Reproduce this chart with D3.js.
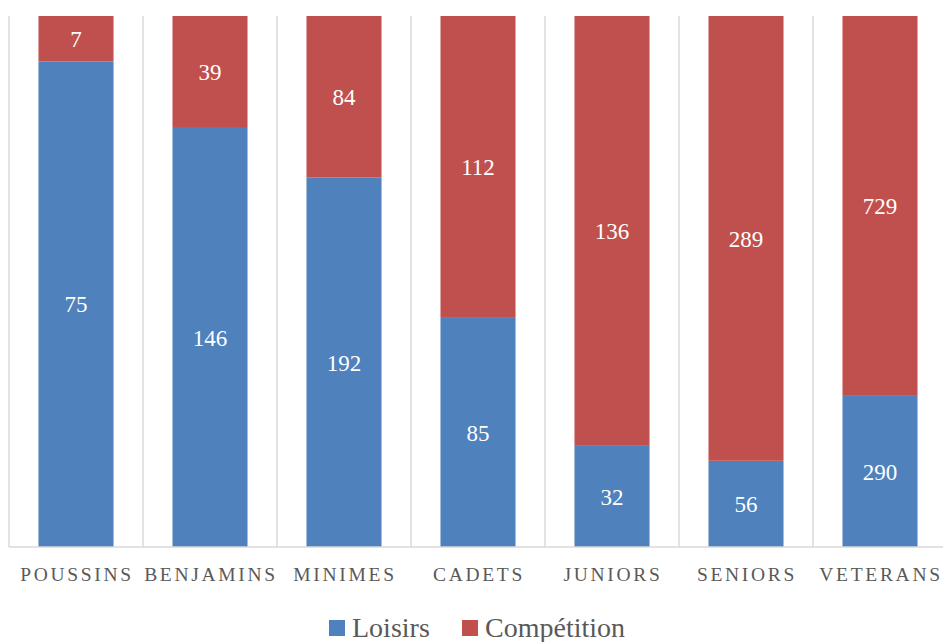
<!DOCTYPE html>
<html>
<head>
<meta charset="utf-8">
<script src="https://cdn.jsdelivr.net/npm/d3@7"></script>
<style>
  body { margin: 0; background: #fff; }
  svg text { font-family: "Liberation Serif", "DejaVu Serif", serif; }
</style>
</head>
<body>
<svg id="chart" width="943" height="642"></svg>
<script>
// categories and series values
let categories = ['POUSSINS', 'BENJAMINS', 'MINIMES', 'CADETS', 'JUNIORS', 'SENIORS', 'VETERANS'];
let loisirs = [75, 146, 192, 85, 32, 56, 290];
let competition = [7, 39, 84, 112, 136, 289, 729];
let seriesNames = ['Loisirs', 'Compétition'];
let colors = ['#4f81bd', '#c0504d'];

let svg = d3.select('#chart');

// plot area
let plotLeft = 9, plotRight = 947, plotTop = 16, plotBottom = 547;

let x = d3.scaleBand().domain(categories).range([plotLeft, plotRight]).paddingInner(0).paddingOuter(0);
let y = d3.scaleLinear().domain([0, 1]).range([plotBottom, plotTop]);

// table for the stack, normalised to 100%
let rows = categories.map((c, i) => ({cat: c, Loisirs: loisirs[i], 'Compétition': competition[i]}));
let stack = d3.stack().keys(seriesNames).offset(d3.stackOffsetExpand);
let series = stack(rows);

// vertical gridlines between categories
let bounds = categories.map(c => x(c)).concat([plotRight]);
svg.append('g').selectAll('line')
  .data(bounds)
  .join('line')
  .attr('x1', d => d).attr('x2', d => d)
  .attr('y1', plotTop).attr('y2', plotBottom)
  .attr('stroke', '#d9d9d9')
  .attr('stroke-width', 1.5);

let barW = x.bandwidth() * 0.56;

let groups = svg.append('g').selectAll('g')
  .data(series)
  .join('g')
  .attr('fill', (d, i) => colors[i]);

groups.selectAll('rect')
  .data(d => d)
  .join('rect')
  .attr('x', d => x(d.data.cat) + (x.bandwidth() - barW) / 2)
  .attr('y', d => y(d[1]))
  .attr('width', barW)
  .attr('height', d => y(d[0]) - y(d[1]));

// data labels
groups.selectAll('text')
  .data((d, i) => d.map(p => ({p: p, key: seriesNames[i]})))
  .join('text')
  .attr('x', d => x(d.p.data.cat) + x.bandwidth() / 2)
  .attr('y', d => (y(d.p[0]) + y(d.p[1])) / 2)
  .attr('dy', '0.36em')
  .attr('text-anchor', 'middle')
  .attr('fill', '#fff')
  .style('font-size', '23px')
  .text(d => d.p.data[d.key]);

// x axis line
svg.append('line')
  .attr('x1', plotLeft).attr('x2', plotRight)
  .attr('y1', plotBottom).attr('y2', plotBottom)
  .attr('stroke', '#d9d9d9')
  .attr('stroke-width', 1.5);

// category labels
svg.append('g').selectAll('text')
  .data(categories)
  .join('text')
  .attr('x', d => x(d) + x.bandwidth() / 2 + 1)
  .attr('y', 581)
  .attr('text-anchor', 'middle')
  .attr('fill', '#595959')
  .style('font-size', '19.5px')
  .style('letter-spacing', '2.7px')
  .text(d => d);

// legend
let legendX = [329, 462];
let legend = svg.append('g').selectAll('g')
  .data(seriesNames)
  .join('g')
  .attr('transform', (d, i) => `translate(${legendX[i]},620)`);

legend.append('rect')
  .attr('width', 16).attr('height', 16)
  .attr('fill', (d, i) => colors[i]);

legend.append('text')
  .attr('x', 23)
  .attr('y', 17)
  .attr('fill', '#595959')
  .style('font-size', '28px')
  .text(d => d);
</script>
</body>
</html>
